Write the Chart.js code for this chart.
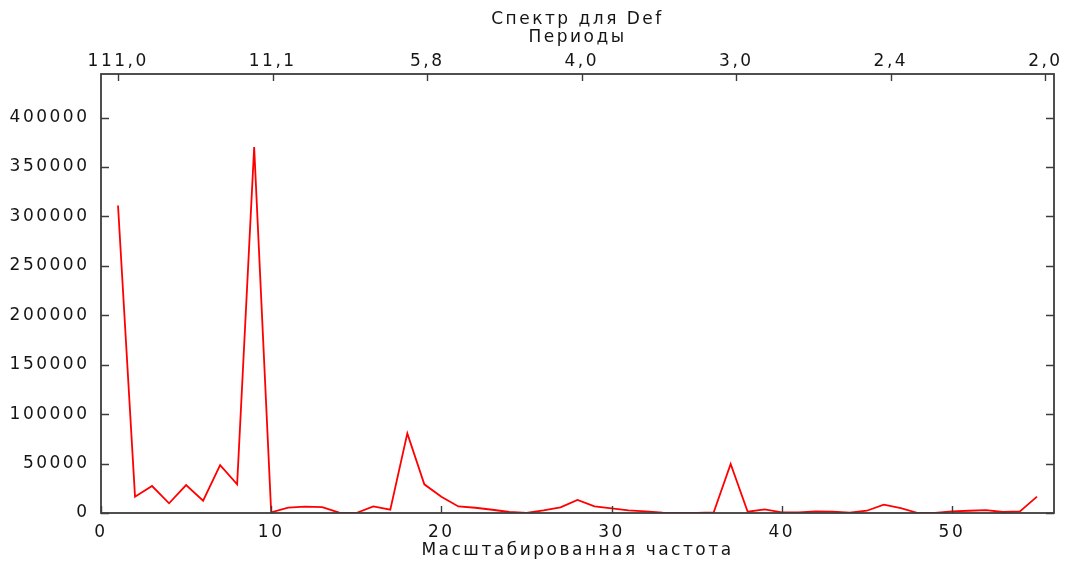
<!DOCTYPE html>
<html>
<head>
<meta charset="utf-8">
<script src="https://cdn.jsdelivr.net/npm/chart.js@4.4.1/dist/chart.umd.min.js"></script>
<style>
  html, body { margin: 0; padding: 0; background: #ffffff; }
  #wrap { width: 1065px; height: 561px; }
</style>
</head>
<body>
<div id="wrap"><canvas id="c" width="1065" height="561"></canvas></div>
<script>
// ---- data ----
const frequencies = [1,2,3,4,5,6,7,8,9,10,11,12,13,14,15,16,17,18,19,20,21,22,23,24,25,26,27,28,29,30,31,32,33,34,35,36,37,38,39,40,41,42,43,44,45,46,47,48,49,50,51,52,53,54,55];
const spectrum = [311000,16500,27300,9800,28300,12400,48500,29000,370000,700,
                  5400,6400,6000,300,0,6700,3400,80500,29000,16500,
                  6600,5300,3300,1000,0,2600,5700,13300,6700,4700,
                  2700,1700,300,0,0,500,49500,1300,3700,700,
                  500,1600,1300,300,2300,8400,5000,0,0,1600,
                  2300,3000,1000,1700,16500];
const bottomTicks = [0,10,20,30,40,50];
const periodTickPositions = [1,10,19,28,37,46,55];
const periodTickLabels = ['111,0','11,1','5,8','4,0','3,0','2,4','2,0'];
const yTicks = [0,50000,100000,150000,200000,250000,300000,350000,400000];
const chartTitle = 'Спектр для Def';
const topAxisTitle = 'Периоды';
const bottomAxisTitle = 'Масштабированная частота';

// ---- styling ----
const FONT = { family: '"DejaVu Sans", Verdana, sans-serif', size: 17 };
const TEXT = '#151515';
const FRAME = '#3c3c3c';
const SPACING = '2.5px';

const spacingPlugin = {
  id: 'spacing',
  beforeUpdate(chart) { chart.ctx.letterSpacing = SPACING; },
  beforeLayout(chart) { chart.ctx.letterSpacing = SPACING; },
  beforeDraw(chart) { chart.ctx.letterSpacing = SPACING; }
};

const framePlugin = {
  id: 'frameTicks',
  afterDraw(chart) {
    const { ctx, chartArea: a, scales } = chart;
    ctx.save();
    ctx.strokeStyle = FRAME;
    ctx.lineWidth = 1.8;
    ctx.strokeRect(a.left, a.top, a.right - a.left, a.bottom - a.top);
    ctx.lineWidth = 1.4;
    ctx.beginPath();
    scales.y.ticks.forEach(t => {
      const py = Math.round(scales.y.getPixelForValue(t.value)) + 0.5;
      ctx.moveTo(a.left, py); ctx.lineTo(a.left + 8, py);
      ctx.moveTo(a.right, py); ctx.lineTo(a.right - 8, py);
    });
    scales.x.ticks.forEach(t => {
      const px = Math.round(scales.x.getPixelForValue(t.value)) + 0.5;
      ctx.moveTo(px, a.bottom); ctx.lineTo(px, a.bottom - 7);
    });
    scales.x2.ticks.forEach(t => {
      const px = Math.round(scales.x2.getPixelForValue(t.value)) + 0.5;
      ctx.moveTo(px, a.top); ctx.lineTo(px, a.top + 7);
    });
    ctx.stroke();
    ctx.restore();
  }
};

const points = frequencies.map((f, i) => ({ x: f, y: spectrum[i] }));

new Chart(document.getElementById('c'), {
  type: 'line',
  data: {
    datasets: [{
      label: 'Def',
      data: points,
      xAxisID: 'x',
      yAxisID: 'y',
      borderColor: '#ff0000',
      borderWidth: 1.8,
      pointRadius: 0,
      tension: 0,
      fill: false
    }]
  },
  options: {
    responsive: false,
    animation: false,
    devicePixelRatio: 1,
    layout: { padding: { left: 0, right: 11, top: 0, bottom: 0 } },
    plugins: {
      legend: { display: false },
      tooltip: { enabled: false },
      title: { display: false }
    },
    scales: {
      x: {
        type: 'linear',
        position: 'bottom',
        min: 0,
        max: 56,
        afterBuildTicks: s => { s.ticks = bottomTicks.map(v => ({ value: v })); },
        afterFit: s => { s.height = 48; },
        grid: { display: false },
        border: { display: false },
        ticks: { padding: 1, color: TEXT, font: FONT, maxRotation: 0, autoSkip: false,
                 callback: v => String(v) },
        title: { display: true, text: bottomAxisTitle, color: TEXT,
                 font: { ...FONT, lineHeight: 1 }, padding: { top: 0, bottom: 2 } }
      },
      x2: {
        type: 'linear',
        position: 'top',
        min: 0,
        max: 55.5,
        afterBuildTicks: s => { s.ticks = periodTickPositions.map(v => ({ value: v })); },
        afterFit: s => { s.height = 74; },
        grid: { display: false },
        border: { display: false },
        ticks: { padding: -6, color: TEXT, font: FONT, maxRotation: 0, autoSkip: false,
                 callback: v => periodTickLabels[periodTickPositions.indexOf(v)] },
        title: { display: true, text: [chartTitle, topAxisTitle], color: TEXT,
                 font: { ...FONT, lineHeight: 1.03 }, padding: { top: 11, bottom: 0 } }
      },
      y: {
        type: 'linear',
        position: 'left',
        min: 0,
        max: 444000,
        afterBuildTicks: s => { s.ticks = yTicks.map(v => ({ value: v })); },
        afterFit: s => { s.width = 101; },
        grid: { display: false },
        border: { display: false },
        ticks: { padding: 3.5, color: TEXT, font: FONT, autoSkip: false,
                 callback: v => String(v) }
      }
    }
  },
  plugins: [spacingPlugin, framePlugin]
});
</script>
</body>
</html>
